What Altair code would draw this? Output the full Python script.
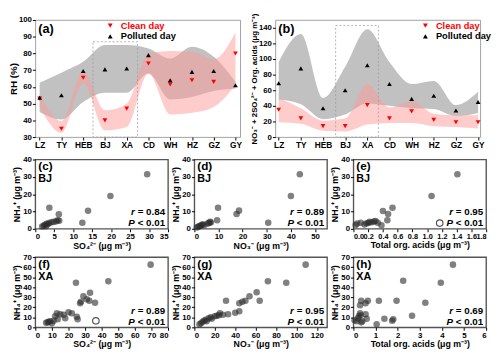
import altair as alt
import pandas as pd

FONT = "Liberation Sans"
sites = ["LZ", "TY", "HEB", "BJ", "XA", "CD", "WH", "HZ", "GZ", "GY"]
types = ["Clean day", "Polluted day"]

# (a) RH (%)
rh_clean = [53, 35, 65.5, 40, 47, 74, 61.5, 64, 63, 80]
rh_poll = [53.5, 55, 69.5, 70.5, 71, 79, 64, 69, 69.5, 61]
rh_clean_lo = [48, 32.5, 62, 34, 36, 68, 43.5, 44.5, 48, 61]
rh_clean_hi = [56, 39.5, 69.5, 46, 50, 80, 81.5, 81, 76.5, 92.5]
rh_poll_lo = [45, 40.5, 51, 56.5, 56.5, 68, 52.5, 54, 57.5, 59]
rh_poll_hi = [62.5, 68.5, 75, 85, 85, 83, 77, 84, 78, 63]

# (b) NO3- + 2SO4 2- + org. acids
na_clean = [35, 24, 14, 14, 41, 24, 33, 22, 19, 19]
na_poll = [69, 88, 37, 60, 92, 68, 49, 53, 34, 45]
na_clean_lo = [19, 17, 8, 7, 16, 18, 18, 14, 13, 11]
na_clean_hi = [50, 37, 21, 24, 68, 38, 46, 30, 28, 28]
na_poll_lo = [48, 42, 23, 29, 43, 40, 37, 36, 27, 31]
na_poll_hi = [96, 132, 50, 90, 138, 96, 68, 72, 41, 58]

# BJ scatter
c_x = [29.5, 19.8, 13.9, 12.4, 3.7, 6.2, 6.3, 5.5, 4.8, 4.2, 3.6, 3.0, 2.5, 2.2, 1.8, 2.8, 3.3, 5.9]
c_y = [31.5, 19, 10.4, 3.5, 12.2, 8.4, 4.7, 4.3, 4.0, 3.8, 3.3, 2.9, 2.3, 1.8, 1.3, 1.5, 2.6, 4.9]
d_x = [43.7, 40, 9.8, 18.5, 17.5, 9.4, 30.6, 6.5, 6.8, 6.0, 5.5, 3.5, 3.0, 2.5, 1.5, 1.0, 4.0, 2.0]
d_y = [31.5, 19, 12.2, 10.5, 8.5, 5, 3.5, 4.0, 3.6, 3.3, 3.0, 2.6, 2.2, 1.8, 1.2, 0.8, 2.0, 1.5]
e_x = [1.41, 1.06, 0.53, 0.40, 0.47, 0.46, 0.05, 0.1, 0.18, 0.22, 0.25, 0.28, 0.33, 0.38, 0.15, 0.2, 0.3, 0.03]
e_y = [31.5, 19, 12.2, 10.3, 8.5, 5, 3, 3.5, 3.2, 4.0, 3.8, 4.2, 3.5, 2.0, 2.5, 3.3, 4.5, 2.2]
e_open = [1.17, 3.3]

# XA scatter
f_x = [69.5, 44, 24.5, 33, 29, 27.5, 27, 32.5, 36, 20, 17, 13, 22, 15, 12, 9, 8, 6.5, 13.5, 25, 25.5, 11, 10, 18, 7.5, 31]
f_y = [62.5, 46, 44.5, 34.5, 31, 25.5, 24, 26.5, 24.5, 15, 12.5, 14, 14, 13, 11, 6, 5.5, 4.5, 8, 10.5, 8, 6.5, 4, 9, 5, 28]
f_open = [36.5, 6.5]
g_x = [109, 90, 72, 61, 54, 47, 44, 50, 64, 31, 44, 40, 33, 28, 24, 20, 16, 14, 11, 9.5, 8, 6.5, 5, 25, 17, 22, 12]
g_y = [62.5, 44.5, 46, 35, 31, 25.5, 24, 26.5, 26.5, 26.5, 16, 14.5, 13, 12.5, 12, 11, 10, 9, 7.5, 6.5, 5.5, 4, 3, 14, 8.5, 11.5, 6]
h_x = [4.5, 3.95, 2.25, 3.25, 2.65, 1.95, 1.15, 0.65, 0.35, 0.55, 0.3, 0.3, 0.32, 0.2, 0.05, 0.6, 0.55, 1.8, 1.75, 1.4, 1.05, 0.35, 0.4, 0.25, 0.15]
h_y = [62.5, 44.5, 46.5, 24.5, 11.5, 26.5, 26.5, 26.5, 26.5, 24, 22, 14, 12, 9, 7, 8.5, 13, 8, 6.5, 8.5, 3, 5, 6, 11, 6]

TOP_W, TOP_H = 210, 120
SC_W = 136
SC_H2, SC_H3 = 71, 72

site_expr = "[" + ",".join("'%s'" % s for s in sites) + "][datum.value]"


def text_layer(txt, x, y, size, align="left", baseline="top", style="normal", color="#000"):
    return alt.Chart(pd.DataFrame({"t": [txt]})).mark_text(
        align=align, baseline=baseline, fontSize=size, fontWeight="bold",
        fontStyle=style, font=FONT, color=color
    ).encode(x=alt.value(x), y=alt.value(y), text="t:N")


def top_panel(tag, clean, poll, clo, chi, plo, phi, ydom, yticks, ytitle, tsize,
              box_x, box_top, leg_x, xdom):
    n = len(sites)
    idx = list(range(n))
    bands = pd.DataFrame({"i": idx, "clo": clo, "chi": chi, "plo": plo, "phi": phi})
    pts = pd.DataFrame({"i": idx * 2, "v": clean + poll,
                        "type": [types[0]] * n + [types[1]] * n})
    box = pd.DataFrame({"x1": [box_x[0]], "x2": [box_x[1]], "y1": [ydom[0]], "y2": [box_top]})
    xsc = alt.Scale(domain=xdom, nice=False, zero=False)
    ysc = alt.Scale(domain=ydom, nice=False, zero=False)
    xax = alt.Axis(values=idx, labelExpr=site_expr, title=None, labelFontSize=8.5, labelPadding=1)
    yax = alt.Axis(values=yticks, title=ytitle, titleFontSize=tsize, minExtent=16, maxExtent=16,
                   titlePadding=1)
    X = alt.X("i:Q", scale=xsc, axis=xax)
    gray = alt.Chart(bands).mark_area(color="#a0a0a0", opacity=0.65, interpolate="monotone").encode(
        x=X, y=alt.Y("plo:Q", scale=ysc, axis=yax), y2="phi:Q")
    pink = alt.Chart(bands).mark_area(color="#ff9a9a", opacity=0.5, interpolate="monotone").encode(
        x=X, y=alt.Y("clo:Q", scale=ysc, axis=yax), y2="chi:Q")
    rect = alt.Chart(box).mark_rect(fillOpacity=0, stroke="#a0a0a0", strokeDash=[2, 2],
                                    strokeWidth=0.8).encode(
        x=alt.X("x1:Q", scale=xsc, axis=xax), x2="x2:Q",
        y=alt.Y("y1:Q", scale=ysc, axis=yax), y2="y2:Q")
    leg = alt.Legend(orient="none", legendX=leg_x, legendY=1, title=None,
                     labelFont=FONT, labelFontWeight="bold", labelFontSize=9.5,
                     symbolSize=25, padding=0, rowPadding=0, labelOffset=6,
                     labelColor=alt.ExprRef("datum.label == 'Clean day' ? '#ff0000' : '#000000'"))
    points = alt.Chart(pts).mark_point(filled=True, size=24, opacity=1).encode(
        x=X, y=alt.Y("v:Q", scale=ysc, axis=yax),
        shape=alt.Shape("type:N", scale=alt.Scale(domain=types, range=["triangle-down", "triangle-up"]), legend=leg),
        color=alt.Color("type:N", scale=alt.Scale(domain=types, range=["#ff0000", "#000000"]), legend=leg))
    lab = text_layer(tag, 3, 3, 13)
    return alt.layer(gray, pink, rect, points, lab).properties(
        width=TOP_W, height=TOP_H, view=alt.ViewBackground(stroke="#888", strokeWidth=0.8))


def scatter(tag, site, xs, ys, xdom, xticks, xfmt, xtitle, ydom, yticks, r, h, opn=None, xlab=8):
    df = pd.DataFrame({"x": xs, "y": ys})
    xsc = alt.Scale(domain=xdom, nice=False, zero=False)
    ysc = alt.Scale(domain=ydom, nice=False, zero=False)
    X = alt.X("x:Q", scale=xsc, axis=alt.Axis(values=xticks, format=xfmt, title=xtitle,
                                              labelOverlap=False, labelFontSize=xlab))
    Y = alt.Y("y:Q", scale=ysc, axis=alt.Axis(values=yticks, title="NH₄⁺ (μg m⁻³)",
                                              minExtent=13, maxExtent=13, titlePadding=1))
    layers = [alt.Chart(df).mark_circle(size=45, color="#2b2b2b", opacity=0.6).encode(x=X, y=Y)]
    if opn:
        layers.append(alt.Chart(pd.DataFrame({"x": [opn[0]], "y": [opn[1]]})).mark_point(
            shape="circle", filled=False, color="#555", strokeWidth=1.2, size=45, opacity=1
        ).encode(x=X, y=Y))
    layers += [
        text_layer(tag, 3, 2, 12),
        text_layer(site, 3, 14, 11),
        text_layer("= " + r, SC_W - 3, h - 17, 10, align="right", baseline="middle"),
        text_layer("r", SC_W - 34, h - 17, 10, align="right", baseline="middle", style="italic"),
        text_layer("< 0.01", SC_W - 3, h - 5.5, 10, align="right", baseline="middle"),
        text_layer("P", SC_W - 34, h - 5.5, 10, align="right", baseline="middle", style="italic"),
    ]
    return alt.layer(*layers).properties(
        width=SC_W, height=h, view=alt.ViewBackground(stroke="#555", strokeWidth=1.4))


pa = top_panel("(a)", rh_clean, rh_poll, rh_clean_lo, rh_clean_hi, rh_poll_lo, rh_poll_hi,
               [30, 100], list(range(30, 101, 10)), "RH (%)", 10, [2.45, 4.5], 87, 72, [-0.2, 9.22])
pb = top_panel("(b)", na_clean, na_poll, na_clean_lo, na_clean_hi, na_poll_lo, na_poll_hi,
               [0, 150], list(range(0, 141, 20)), "NO₃⁻ + 2SO₄²⁻ + Org. acids (μg m⁻³)", 8,
               [2.57, 4.5], 143, 149, [-0.15, 9.1])

so4_t = "SO₄²⁻ (μg m⁻³)"
no3_t = "NO₃⁻ (μg m⁻³)"
oa_t = "Total org. acids (μg m⁻³)"
pc = scatter("(c)", "BJ", c_x, c_y, [0, 35], list(range(0, 36, 5)), "d", so4_t, [0, 40], list(range(0, 41, 10)), "0.84", SC_H2)
pd_ = scatter("(d)", "BJ", d_x, d_y, [0, 55], list(range(0, 51, 10)), "d", no3_t, [0, 40], list(range(0, 41, 10)), "0.89", SC_H2)
pe = scatter("(e)", "BJ", e_x, e_y, [0, 1.8], [round(0.2 * k, 1) for k in range(10)], ".1f", oa_t, [0, 40], list(range(0, 41, 10)), "0.95", SC_H2, e_open, 7.5)
pf = scatter("(f)", "XA", f_x, f_y, [0, 80], list(range(0, 81, 10)), "d", so4_t, [0, 70], list(range(0, 71, 10)), "0.89", SC_H3, f_open)
pg = scatter("(g)", "XA", g_x, g_y, [0, 130], list(range(0, 121, 20)), "d", no3_t, [0, 70], list(range(0, 71, 10)), "0.95", SC_H3)
ph = scatter("(h)", "XA", h_x, h_y, [0, 6], list(range(0, 7)), "d", oa_t, [0, 70], list(range(0, 71, 10)), "0.69", SC_H3)

top = alt.hconcat(pa, pb, spacing=36, bounds="flush").resolve_scale(
    shape="independent", color="independent").resolve_legend(shape="independent", color="independent")
row2 = alt.hconcat(pc, pd_, pe, spacing=27, bounds="flush")
row3 = alt.hconcat(pf, pg, ph, spacing=27, bounds="flush")
bottom = alt.vconcat(row2, row3, spacing=1)

chart = alt.vconcat(top, bottom, spacing=5).properties(
    padding=0
).configure(font=FONT).configure_axis(
    labelFont=FONT, labelFontWeight="bold", labelFontSize=8, labelColor="#000",
    titleFont=FONT, titleFontWeight="bold", titleFontSize=9, titleColor="#000",
    tickSize=3, tickColor="#000", domain=False, grid=False, labelPadding=1, titlePadding=1
)

chart.save("out.html", embed_options={"renderer": "svg", "actions": False})
